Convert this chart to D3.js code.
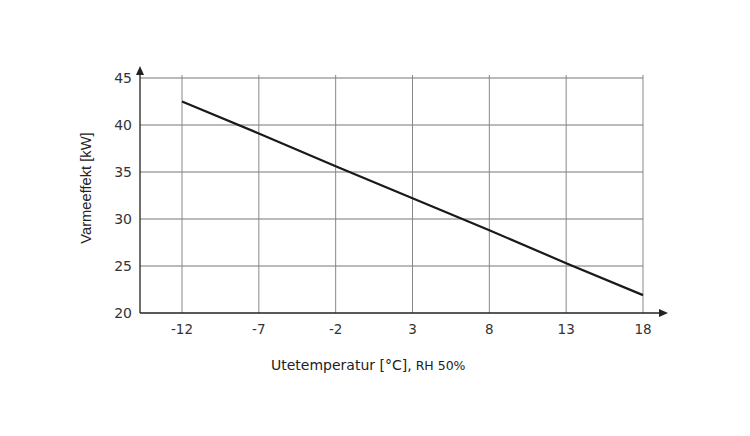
<!DOCTYPE html>
<html><head><meta charset="utf-8">
<script src="https://cdn.jsdelivr.net/npm/d3@7"></script>
<style>body{margin:0;background:#fff;}svg{display:block;}</style>
</head><body>
<script>
const temps = [-12, -7, -2, 3, 8, 13, 18];
const power = [42.5, 39.1, 35.6, 32.2, 28.8, 25.3, 21.9];
const yTicks = [20, 25, 30, 35, 40, 45];
const xLabel = "Utetemperatur [°C],";
const xLabel2 = "RH 50%";
const yLabel = "Varmeeffekt [kW]";

const W = 750, H = 436;
const svg = d3.select("body").append("svg").attr("width", W).attr("height", H);
const x = d3.scaleLinear().domain([-12, 18]).range([182, 643]);
const y = d3.scaleLinear().domain([20, 45]).range([313, 78]);
const x0 = 140;
const font = "'DejaVu Sans', sans-serif";

// horizontal grid
svg.append("g").selectAll("line").data(yTicks.slice(1)).join("line")
  .attr("x1", x0).attr("x2", x(18)).attr("y1", d => y(d)).attr("y2", d => y(d))
  .attr("stroke", "#777").attr("stroke-width", 1);
// vertical grid
svg.append("g").selectAll("line").data(temps).join("line")
  .attr("x1", d => x(d)).attr("x2", d => x(d)).attr("y1", y(45) - 3).attr("y2", y(20))
  .attr("stroke", "#888").attr("stroke-width", 1);

// axes
svg.append("line").attr("x1", x0).attr("x2", 662).attr("y1", y(20)).attr("y2", y(20))
  .attr("stroke", "#222").attr("stroke-width", 1.3);
svg.append("line").attr("x1", x0).attr("x2", x0).attr("y1", y(20)).attr("y2", 72)
  .attr("stroke", "#222").attr("stroke-width", 1.3);
svg.append("path").attr("d", `M${x0-4},75 L${x0},66 L${x0+4},75 Z`).attr("fill", "#222");
svg.append("path").attr("d", `M659,${y(20)-4} L668,${y(20)} L659,${y(20)+4} Z`).attr("fill", "#222");

// tick labels
svg.append("g").selectAll("text").data(yTicks).join("text")
  .attr("x", 132).attr("y", d => y(d) + 5).attr("text-anchor", "end")
  .attr("font-family", font).attr("font-size", 14).attr("fill", "#333").text(d => d);
svg.append("g").selectAll("text").data(temps).join("text")
  .attr("x", d => x(d)).attr("y", 334).attr("text-anchor", "middle")
  .attr("font-family", font).attr("font-size", 13.5).attr("fill", "#333").text(d => d);

// line
svg.append("path").datum(temps.map((t, i) => [t, power[i]]))
  .attr("d", d3.line().x(d => x(d[0])).y(d => y(d[1])))
  .attr("fill", "none").attr("stroke", "#1a1a1a").attr("stroke-width", 2.2);

// labels
const t = svg.append("text").attr("x", 271).attr("y", 370)
  .attr("font-family", font).attr("fill", "#222");
t.append("tspan").attr("font-size", 14).text(xLabel);
t.append("tspan").attr("font-size", 12.5).attr("dx", 4).text(xLabel2);

svg.append("text").attr("transform", "translate(91,188) rotate(-90)")
  .attr("text-anchor", "middle").attr("font-family", "'Liberation Sans', Arial, sans-serif")
  .attr("font-size", 14.7).attr("fill", "#222").text(yLabel);
</script>
</body></html>
